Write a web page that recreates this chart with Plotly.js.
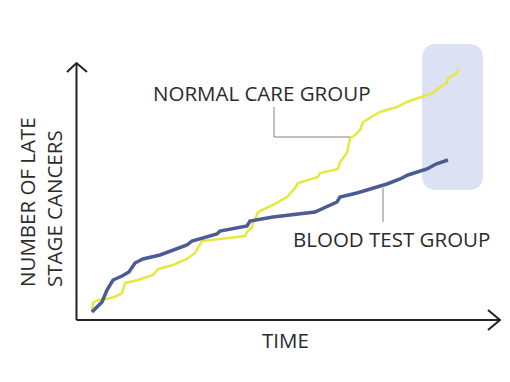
<!DOCTYPE html>
<html>
<head>
<meta charset="utf-8">
<script src="https://cdn.plot.ly/plotly-3.0.1.min.js"></script>
<style>html,body{margin:0;padding:0;background:#fff;}#chart{width:510px;height:382px;}</style>
</head>
<body>
<div id="chart"></div>
<script>
// Time (arbitrary units) and cumulative number of late stage cancers (arbitrary units)
const bloodTime = [15,20,25,30,36,45,52,58,66,83,100,110,115,130,140,143,170,173,196,238,250,260,263,280,300,310,323,331,350,359,371];
const bloodCount = [8,13,18,30,40,44,48,57,61,65,71,75,79,83,86,89,94,99,103,108,113,118,123,127,133,136,141,145,151,156,160];

const normalTime = [15,16,21,30,40,45,48,61,76,81,96,110,118,125,143,168,170,175,176,178,181,196,210,218,221,241,243,261,263,270,273,278,283,286,303,320,330,356,363,370,371,380,381];
const normalCount = [8,17,20,21,24,27,37,40,45,51,55,61,67,79,81,84,88,93,97,100,108,115,123,132,137,143,147,151,158,167,182,185,190,198,208,213,218,227,233,237,242,247,251];

const labels = {
  normal: "NORMAL CARE GROUP",
  blood: "BLOOD TEST GROUP",
  xTitle: "TIME",
  yTitle: "NUMBER OF LATE<br>STAGE CANCERS"
};

const FONT = "'Open Sans', 'Noto Sans', sans-serif";
const TXT = "#2b2b2b";
const FS = 20.5;

const traces = [
  {x: normalTime, y: normalCount, type: "scatter", mode: "lines",
   line: {color: "#e7e83f", width: 2.5}, hoverinfo: "skip", name: labels.normal},
  {x: bloodTime, y: bloodCount, type: "scatter", mode: "lines",
   line: {color: "#4b5b95", width: 3.5}, hoverinfo: "skip", name: labels.blood}
];

// rounded highlight box
const bx0 = 345, bx1 = 406, by0 = 130, by1 = 276, r = 15;
const boxPath = `M ${bx0+r},${by1} L ${bx1-r},${by1} Q ${bx1},${by1} ${bx1},${by1-r} L ${bx1},${by0+r} Q ${bx1},${by0} ${bx1-r},${by0} L ${bx0+r},${by0} Q ${bx0},${by0} ${bx0},${by0+r} L ${bx0},${by1-r} Q ${bx0},${by1} ${bx0+r},${by1} Z`;

const layout = {
  width: 510, height: 382,
  margin: {l: 0, r: 0, t: 0, b: 0},
  paper_bgcolor: "#ffffff", plot_bgcolor: "#ffffff",
  showlegend: false,
  xaxis: {range: [-77, 433], visible: false, fixedrange: true},
  yaxis: {range: [-62, 320], visible: false, fixedrange: true},
  shapes: [
    {type: "path", path: boxPath, fillcolor: "#dde1f4", line: {width: 0}, layer: "below"},
    // axes
    {type: "line", x0: -0.5, y0: 0, x1: -0.5, y1: 257, line: {color: "#222", width: 2}},
    {type: "line", x0: -0.5, y0: 0, x1: 423, y1: 0, line: {color: "#222", width: 2}},
    {type: "path", path: "M -10,248 L -0.5,257 L 10,248", line: {color: "#222", width: 2}},
    {type: "path", path: "M 411,10 L 423,0 L 411,-10", line: {color: "#222", width: 2}},
    // leader lines
    {type: "path", path: "M 197,213 L 197,183 L 273,183", line: {color: "#808080", width: 1}},
    {type: "line", x0: 306, y0: 132, x1: 306, y1: 98, line: {color: "#808080", width: 1}}
  ],
  annotations: [
    {x: 184, y: 227, xref: "x", yref: "y", text: labels.normal, showarrow: false,
     font: {family: FONT, size: FS, color: TXT}},
    {x: 314, y: 81, xref: "x", yref: "y", text: labels.blood, showarrow: false,
     font: {family: FONT, size: FS, color: TXT}},
    {x: 208, y: -20, xref: "x", yref: "y", text: labels.xTitle, showarrow: false,
     font: {family: FONT, size: FS, color: TXT}},
    {x: -37, y: 118, xref: "x", yref: "y", text: labels.yTitle, showarrow: false,
     textangle: -90, align: "left",
     font: {family: FONT, size: FS, color: TXT}}
  ]
};

Plotly.newPlot("chart", traces, layout, {staticPlot: true, displayModeBar: false});
</script>
</body>
</html>
